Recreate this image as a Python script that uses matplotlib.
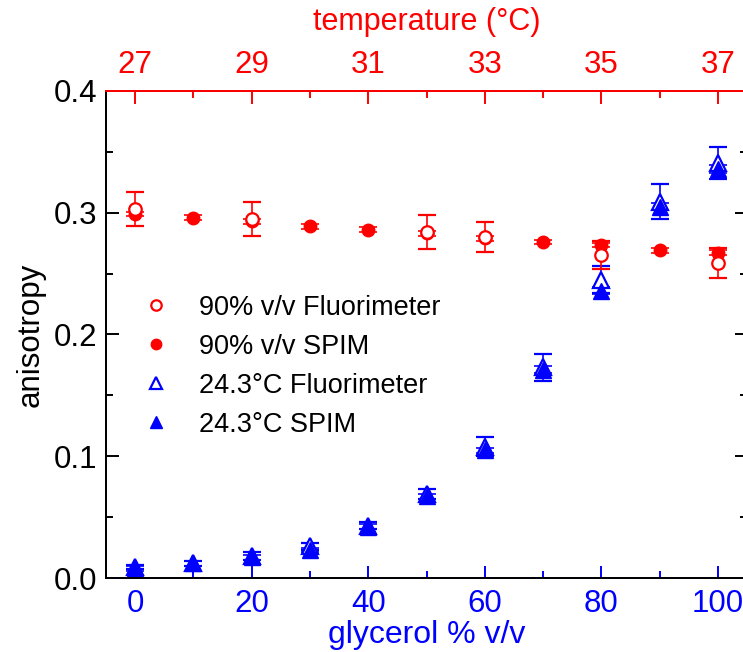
import matplotlib.pyplot as plt
from matplotlib.lines import Line2D
from matplotlib.ticker import MultipleLocator

plt.rcParams['font.family'] = ['Liberation Sans', 'DejaVu Sans']

# glycerol series (24.3 C), bottom axis
glycerol = [0, 10, 20, 30, 40, 50, 60, 70, 80, 90, 100]
glyc_spim = [0.008, 0.012, 0.017, 0.023, 0.042, 0.067, 0.105, 0.171, 0.236, 0.305, 0.336]
glyc_spim_err = [0.002, 0.002, 0.002, 0.002, 0.002, 0.002, 0.002, 0.003, 0.003, 0.003, 0.003]
glyc_fluor = [0.009, 0.012, 0.018, 0.026, 0.043, 0.069, 0.108, 0.173, 0.245, 0.309, 0.341]
glyc_fluor_err = [0.002, 0.002, 0.003, 0.003, 0.003, 0.004, 0.0075, 0.011, 0.011, 0.0145, 0.013]

# temperature series (90% v/v), top axis
temp_spim_t = [27, 28, 29, 30, 31, 32, 33, 34, 35, 36, 37]
temp_spim = [0.299, 0.296, 0.293, 0.289, 0.286, 0.283, 0.279, 0.276, 0.2735, 0.269, 0.267]
temp_spim_err = [0.002, 0.002, 0.002, 0.002, 0.002, 0.002, 0.002, 0.002, 0.002, 0.002, 0.002]
temp_fluor_t = [27, 29, 32, 33, 35, 37]
temp_fluor = [0.303, 0.295, 0.284, 0.280, 0.265, 0.259]
temp_fluor_err = [0.014, 0.014, 0.014, 0.0125, 0.0115, 0.0123]

FS = 22.5
fig = plt.figure(figsize=(7.43, 6.52), dpi=100)
ax = fig.add_axes([106 / 743, 74 / 652, 641 / 743, 487 / 652])
ax2 = ax.twiny()

eb = dict(capsize=6.8, elinewidth=1.2, capthick=1.2, linestyle='none')
ax.errorbar(glycerol, glyc_fluor, yerr=glyc_fluor_err, fmt='^', color='blue',
            markerfacecolor='white', markeredgewidth=1.6, markersize=11, **eb)
ax.errorbar(glycerol, glyc_spim, yerr=glyc_spim_err, fmt='^', color='blue',
            markersize=11, **eb)

ax2.errorbar(temp_spim_t, temp_spim, yerr=temp_spim_err, fmt='o', color='red',
             markersize=9, **eb)
ax2.errorbar(temp_fluor_t, temp_fluor, yerr=temp_fluor_err, fmt='o', color='red',
             markerfacecolor='white', markeredgewidth=1.6, markersize=9, **eb)

ax.set_xlim(-5, 105)
ax2.set_xlim(26.5, 37.5)
ax.set_ylim(0, 0.4)

ax.xaxis.set_major_locator(MultipleLocator(20))
ax.xaxis.set_minor_locator(MultipleLocator(10))
ax.yaxis.set_major_locator(MultipleLocator(0.1))
ax.yaxis.set_minor_locator(MultipleLocator(0.05))
ax.yaxis.set_major_formatter(plt.FormatStrFormatter('%.1f'))
ax2.xaxis.set_major_locator(MultipleLocator(2))
ax2.xaxis.set_minor_locator(MultipleLocator(1))
ax2.set_xticks([27, 29, 31, 33, 35, 37])

for a in (ax, ax2):
    for s in a.spines.values():
        s.set_linewidth(1.4)
ax.spines['bottom'].set_color('blue')
ax2.spines['top'].set_color('red')

ax.tick_params(axis='x', which='both', direction='in', colors='blue', labelsize=FS,
               width=1.4, pad=8)
ax.tick_params(axis='x', which='major', length=9)
ax.tick_params(axis='x', which='minor', length=5)
ax.tick_params(axis='y', which='both', direction='in', right=True, labelsize=FS,
               width=1.4, pad=6)
ax.tick_params(axis='y', which='major', length=9)
ax.tick_params(axis='y', which='minor', length=5)
ax2.tick_params(axis='x', which='both', direction='in', colors='red', labelsize=FS,
                width=1.4, pad=8)
ax2.tick_params(axis='x', which='major', length=9)
ax2.tick_params(axis='x', which='minor', length=5)

ax.set_xlabel('glycerol % v/v', color='blue', fontsize=23, labelpad=1)
ax.set_ylabel('anisotropy', fontsize=22.5, labelpad=6)
ax2.set_xlabel('temperature (°C)', color='red', fontsize=22, labelpad=14)

handles = [
    Line2D([], [], ls='none', marker='o', color='red', markerfacecolor='white',
           markeredgewidth=1.6, markersize=7.5),
    Line2D([], [], ls='none', marker='o', color='red', markersize=7.5),
    Line2D([], [], ls='none', marker='^', color='blue', markerfacecolor='white',
           markeredgewidth=1.6, markersize=8.5),
    Line2D([], [], ls='none', marker='^', color='blue', markersize=8.5),
]
labels = ['90% v/v Fluorimeter', '90% v/v SPIM', '24.3°C Fluorimeter', '24.3°C SPIM']
ax2.legend(handles, labels, loc='upper left', bbox_to_anchor=(0.04, 0.604),
           frameon=False, fontsize=19.5, handlelength=1.0, handletextpad=1.1,
           labelspacing=0.48, borderaxespad=0)

fig.savefig('out.png', dpi=100)
